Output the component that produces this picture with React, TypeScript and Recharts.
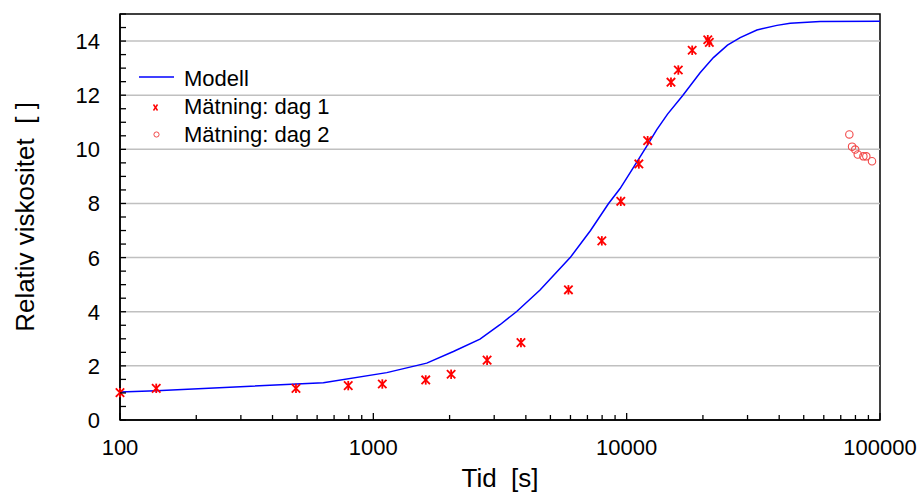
import React from 'react';
import { ComposedChart, Line, Scatter, XAxis, YAxis, ReferenceLine, ReferenceArea } from 'recharts';

const modelX = [100, 139, 635, 1130, 1625, 2070, 2636, 3162, 3681, 4550, 5985, 7200, 8470, 9420, 10700, 11990, 13150, 14500, 16650, 19490, 22000, 25000, 28060, 32660, 39180, 44200, 58000, 100000];
const modelY = [1.03, 1.08, 1.38, 1.75, 2.1, 2.53, 2.99, 3.52, 4.01, 4.8, 6.0, 7.0, 7.99, 8.55, 9.37, 10.11, 10.73, 11.3, 11.99, 12.83, 13.39, 13.85, 14.13, 14.41, 14.58, 14.66, 14.72, 14.73];

const day1X = [100, 139, 495, 796, 1085, 1610, 2028, 2812, 3826, 5890, 7980, 9480, 11170, 12100, 14960, 15990, 18140, 20900, 21200];
const day1Y = [1.01, 1.17, 1.17, 1.27, 1.33, 1.48, 1.69, 2.21, 2.86, 4.81, 6.62, 8.08, 9.46, 10.32, 12.48, 12.93, 13.66, 14.05, 13.95];

const day2X = [75680, 77570, 79800, 81700, 85990, 88300, 93000];
const day2Y = [10.55, 10.1, 9.99, 9.81, 9.74, 9.74, 9.56];

const xMajor = [100, 1000, 10000, 100000];
const xTicks = [100, 200, 300, 400, 500, 600, 700, 800, 900, 1000, 2000, 3000, 4000, 5000, 6000, 7000, 8000, 9000, 10000, 20000, 30000, 40000, 50000, 60000, 70000, 80000, 90000, 100000];
const yLabels = [0, 2, 4, 6, 8, 10, 12, 14];
const yTicks = [0, 0.5, 1, 1.5, 2, 2.5, 3, 3.5, 4, 4.5, 5, 5.5, 6, 6.5, 7, 7.5, 8, 8.5, 9, 9.5, 10, 10.5, 11, 11.5, 12, 12.5, 13, 13.5, 14, 14.5, 15];
const gridValues = [2, 4, 6, 8, 10, 12, 14];

const seriesNames = ['Modell', 'Mätning: dag 1', 'Mätning: dag 2'];
const xTitle = 'Tid  [s]';
const yTitle = 'Relativ viskositet  [ ]';

const modelData = modelX.map((x, i) => ({ x, y: modelY[i] }));
const day1Data = day1X.map((x, i) => ({ x, y: day1Y[i] }));
const day2Data = day2X.map((x, i) => ({ x, y: day2Y[i] }));

const FONT = '"Liberation Sans", Arial, sans-serif';
const RED = '#ff0000';
const RED2 = '#f24a4a';
const BLUE = '#0000ff';

const XTick = (props: any) => {
  const { x, y, payload } = props;
  const v = payload.value;
  const major = xMajor.includes(v);
  return (
    <g>
      <line x1={x} x2={x} y1={y} y2={y - (major ? 7 : 5)} stroke="#000" strokeWidth={1.3} />
      {major && (
        <text x={x} y={y + 35} textAnchor="middle" fontSize={22} fill="#000" fontFamily={FONT}>
          {v}
        </text>
      )}
    </g>
  );
};

const YTick = (props: any) => {
  const { x, y, payload } = props;
  const v = payload.value;
  const major = yLabels.includes(v);
  return (
    <g>
      <line x1={x} x2={x + 6} y1={y} y2={y} stroke="#000" strokeWidth={1.3} />
      {major && (
        <text x={x - 20} y={y + 8} textAnchor="end" fontSize={22} fill="#000" fontFamily={FONT}>
          {v}
        </text>
      )}
    </g>
  );
};

const Star = (props: any) => {
  const { cx, cy } = props;
  const s = 4.2;
  return (
    <g stroke={RED} strokeWidth={1.8}>
      <line x1={cx - s} y1={cy - s} x2={cx + s} y2={cy + s} />
      <line x1={cx - s} y1={cy + s} x2={cx + s} y2={cy - s} />
      <line x1={cx} y1={cy - s - 0.5} x2={cx} y2={cy + s + 0.5} />
    </g>
  );
};

const Ring = (props: any) => {
  const { cx, cy } = props;
  return <circle cx={cx} cy={cy} r={3.7} fill="none" stroke={RED2} strokeWidth={1.1} />;
};

export default function App() {
  return (
    <div style={{ position: 'absolute', left: 0, top: 0, width: 921, height: 493, background: '#fff' }}>
      <ComposedChart
        width={921}
        height={493}
        margin={{ top: 14, right: 41, bottom: 0, left: 0 }}
        style={{ fontFamily: FONT }}
      >
        <XAxis
          dataKey="x"
          type="number"
          scale="log"
          domain={[100, 100000]}
          ticks={xTicks}
          interval={0}
          height={73}
          tickSize={0}
          tickMargin={0}
          tick={<XTick />}
          axisLine={{ stroke: '#000', strokeWidth: 1.5 }}
          tickLine={false}
        />
        <YAxis
          type="number"
          domain={[0, 15]}
          ticks={yTicks}
          interval={0}
          width={120}
          tickSize={0}
          tickMargin={0}
          tick={<YTick />}
          axisLine={{ stroke: '#000', strokeWidth: 1.5 }}
          tickLine={false}
        />
        {gridValues.map((v) => (
          <ReferenceLine key={v} y={v} stroke="#c0c0c0" strokeWidth={1.5} />
        ))}
        <ReferenceArea x1={100} x2={100000} y1={0} y2={15} fill="none" stroke="#000" strokeWidth={1.5} ifOverflow="visible" />
        <Line data={modelData} dataKey="y" type="linear" stroke={BLUE} strokeWidth={1.5} dot={false} isAnimationActive={false} />
        <Scatter data={day1Data} dataKey="y" shape={<Star />} isAnimationActive={false} />
        <Scatter data={day2Data} dataKey="y" shape={<Ring />} isAnimationActive={false} />
      </ComposedChart>
      <svg
        width={921}
        height={493}
        style={{ position: 'absolute', left: 0, top: 0, pointerEvents: 'none' }}
        fontFamily={FONT}
      >
        <line x1={139} x2={174} y1={77} y2={77} stroke={BLUE} strokeWidth={1.5} />
        <g stroke={RED} strokeWidth={1.4}>
          <line x1={153.5} y1={104.5} x2={157.5} y2={110.5} />
          <line x1={153.5} y1={110.5} x2={157.5} y2={104.5} />
        </g>
        <circle cx={156.5} cy={134.5} r={2.6} fill="none" stroke={RED2} strokeWidth={1} />
        <text x={184} y={85.5} fontSize={22} fill="#000">{seriesNames[0]}</text>
        <text x={184} y={113.8} fontSize={22} fill="#000">{seriesNames[1]}</text>
        <text x={184} y={142} fontSize={22} fill="#000">{seriesNames[2]}</text>
        <text x={500} y={487} fontSize={26} textAnchor="middle" fill="#000" style={{ whiteSpace: 'pre' }}>
          {xTitle}
        </text>
        <text
          x={0}
          y={0}
          fontSize={26}
          textAnchor="middle"
          fill="#000"
          style={{ whiteSpace: 'pre' }}
          transform="translate(33.5,217) rotate(-90)"
        >
          {yTitle}
        </text>
      </svg>
    </div>
  );
}
